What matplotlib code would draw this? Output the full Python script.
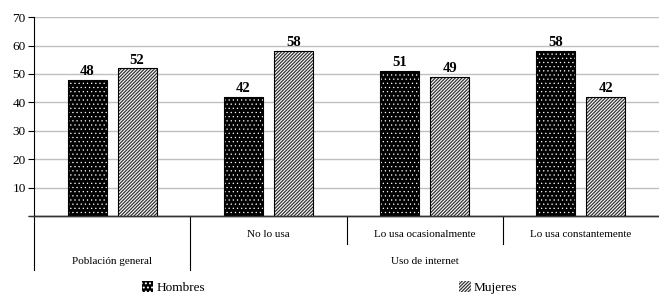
import matplotlib
matplotlib.use("Agg")
import matplotlib.pyplot as plt
import numpy as np
from matplotlib.patches import Patch

plt.rcParams["font.family"] = ["Liberation Serif", "DejaVu Serif"]

categories = ["Población general", "No lo usa", "Lo usa ocasionalmente", "Lo usa constantemente"]
hombres = [48, 42, 51, 58]
mujeres = [52, 58, 49, 42]
yticks = [0, 10, 20, 30, 40, 50, 60, 70]
ytick_labels = ["", "10", "20", "30", "40", "50", "60", "70"]

fig = plt.figure(figsize=(6.59, 2.95), dpi=100)
ax = fig.add_axes([0.0516, 0.268, 0.9484, 0.674])

x = np.arange(len(categories))
w = 0.25
off = 0.16

dot_hatch = "...."
line_hatch = "//////////"

# black bars with small white dots
plt.rcParams["hatch.linewidth"] = 0.4
ax.bar(x - off, hombres, w, color="black", edgecolor="white", hatch=dot_hatch, linewidth=0, zorder=3)
h_patch = Patch(facecolor="black", edgecolor="white", hatch=dot_hatch, linewidth=0)
# white bars with dense diagonal hatch
plt.rcParams["hatch.linewidth"] = 0.9
ax.bar(x + off, mujeres, w, color="white", edgecolor="#333333", hatch=line_hatch, linewidth=0, zorder=3)
m_patch = Patch(facecolor="white", edgecolor="#333333", hatch=line_hatch, linewidth=0)

ax.bar(x - off, hombres, w, facecolor="none", edgecolor="black", linewidth=0.8, zorder=4)
ax.bar(x + off, mujeres, w, facecolor="none", edgecolor="black", linewidth=0.8, zorder=4)

for xi, v in zip(x - off, hombres):
    ax.text(xi, v + 0.6, str(v), ha="center", va="bottom", fontsize=10.5, fontweight="bold")
for xi, v in zip(x + off, mujeres):
    ax.text(xi, v + 0.6, str(v), ha="center", va="bottom", fontsize=10.5, fontweight="bold")

ax.set_xlim(-0.5, 3.5)
ax.set_ylim(0, 70)
ax.set_yticks(yticks)
ax.set_yticklabels(ytick_labels, fontsize=9.5)
ax.yaxis.grid(True, color="#c0c0c0", linewidth=1, zorder=0)
ax.set_axisbelow(True)
ax.tick_params(axis="y", direction="out", length=4, width=0.8, pad=2)
ax.set_xticks([])
for s in ["top", "right"]:
    ax.spines[s].set_visible(False)
ax.spines["left"].set_linewidth(0.8)
ax.spines["bottom"].set_linewidth(1.0)
ax.spines["bottom"].set_color("#333333")
ax.axhline(0, xmin=-0.008, xmax=1, color="#333333", lw=1.0, clip_on=False, zorder=5)

tr = ax.get_xaxis_transform()
# category separators
ax.plot([-0.5, -0.5], [0, -0.27], color="black", lw=0.8, transform=tr, clip_on=False)
ax.plot([0.5, 0.5], [0, -0.27], color="black", lw=0.8, transform=tr, clip_on=False)
ax.plot([1.5, 1.5], [0, -0.14], color="black", lw=0.8, transform=tr, clip_on=False)
ax.plot([2.5, 2.5], [0, -0.14], color="black", lw=0.8, transform=tr, clip_on=False)

for xi, c in zip(x[1:], categories[1:]):
    ax.text(xi, -0.095, c, ha="center", va="center", fontsize=8, transform=tr)
ax.text(x[0], -0.23, categories[0], ha="center", va="center", fontsize=8, transform=tr)
ax.text(2.0, -0.23, "Uso de internet", ha="center", va="center", fontsize=8, transform=tr)

leg = fig.legend([h_patch, m_patch], ["Hombres", "Mujeres"], loc="center", bbox_to_anchor=(0.5, 0.025),
                 ncol=2, frameon=False, fontsize=9.5, handlelength=0.9, handleheight=0.9,
                 handletextpad=0.2, columnspacing=19.3)

fig.savefig("out.png", dpi=100)
